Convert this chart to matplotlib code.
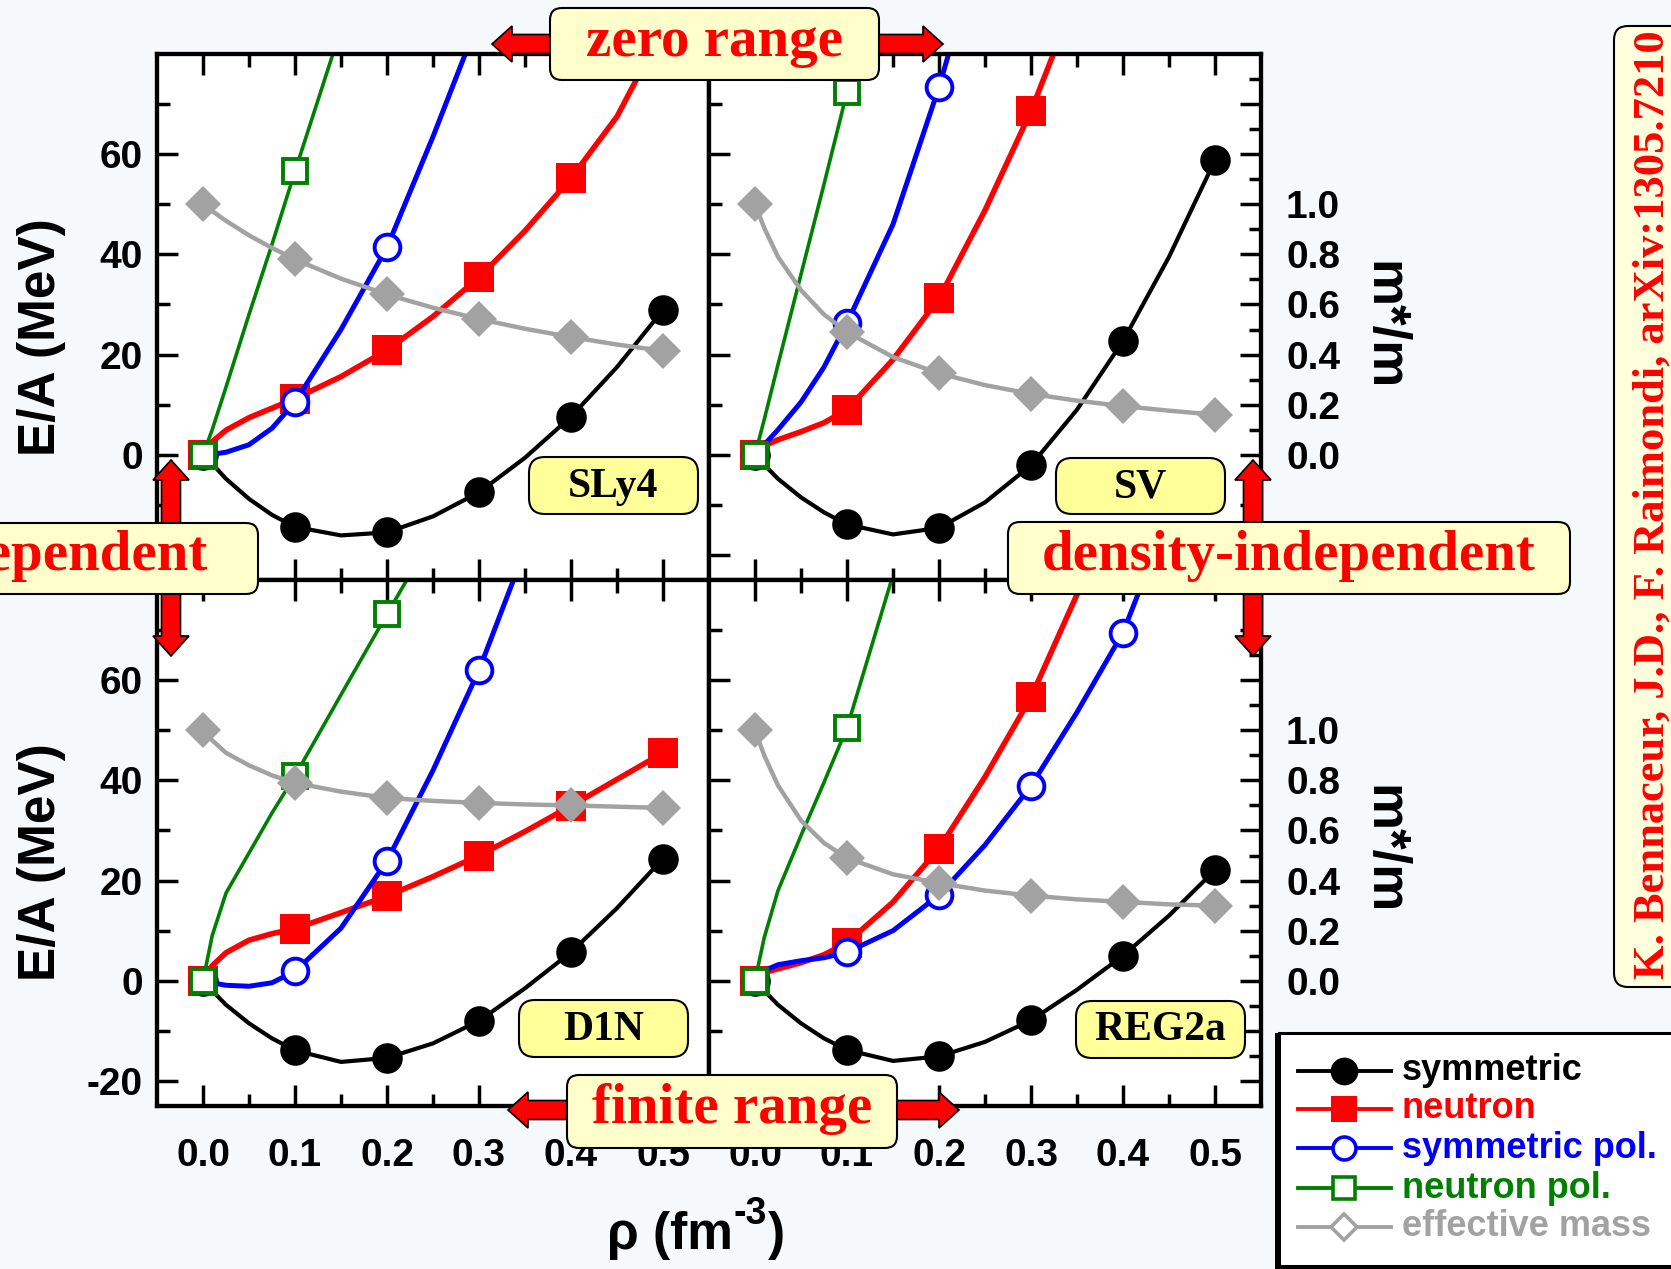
import matplotlib
matplotlib.use("Agg")
import matplotlib.pyplot as plt
from matplotlib.patches import FancyBboxPatch, FancyArrow, Rectangle
from matplotlib.lines import Line2D
from matplotlib.transforms import Affine2D

# ---------------------------------------------------------------- data
RHO_LINE = [0.0, 0.01, 0.025, 0.05, 0.075, 0.1, 0.15, 0.2, 0.25, 0.3, 0.35, 0.4, 0.45, 0.5]
RHO_MARK = [0.0, 0.1, 0.2, 0.3, 0.4, 0.5]

XTICKS = [0.0, 0.1, 0.2, 0.3, 0.4, 0.5]
XTICK_LABELS = ["0.0", "0.1", "0.2", "0.3", "0.4", "0.5"]
XMINOR = [0.05, 0.15, 0.25, 0.35, 0.45]
YTICKS = [-20, 0, 20, 40, 60]
YTICK_LABELS_TOP = ["", "0", "20", "40", "60"]
YTICK_LABELS_BOTTOM = ["-20", "0", "20", "40", "60"]
YMINOR = [-10, 10, 30, 50, 70]
MTICKS = [-0.4, -0.2, 0.0, 0.2, 0.4, 0.6, 0.8, 1.0, 1.2, 1.4]
MTICK_LABELS = ["", "", "0.0", "0.2", "0.4", "0.6", "0.8", "1.0", "", ""]
MMINOR = [-0.3, -0.1, 0.1, 0.3, 0.5, 0.7, 0.9, 1.1, 1.3, 1.5]

FORCES = ["SLy4", "SV", "D1N", "REG2a"]
SERIES = ["symmetric", "neutron", "symmetric pol.", "neutron pol.", "effective mass"]

# E/A (MeV) along RHO_LINE ; effective mass m*/m along RHO_LINE
sly4_sym = [0, -1.8, -4.8, -8.8, -12.0, -14.4, -16.1, -15.5, -12.3, -7.5, -0.6, 7.6, 17.5, 28.9]
sly4_neu = [0, 2.6, 4.9, 7.4, 9.3, 11.2, 15.6, 20.9, 27.6, 35.4, 44.7, 55.2, 67.5, 85.0]
sly4_spol = [0, 0.1, 0.5, 2.0, 5.3, 10.5, 25.0, 41.4, 63.5, 87.0, 112, 140, 170, 200]
sly4_npol = [0, 5.0, 13.5, 28.0, 42.0, 56.6, 85.0, 113, 142, 172, 203, 235, 268, 302]
sly4_mass = [1.0, 0.973, 0.934, 0.876, 0.826, 0.78, 0.703, 0.64, 0.587, 0.542, 0.503, 0.47, 0.44, 0.415]

sv_sym = [0, -2.0, -4.8, -8.5, -11.5, -13.9, -15.9, -14.6, -9.5, -2.1, 9.0, 22.7, 39.5, 58.8]
sv_neu = [0, 1.8, 3.0, 4.6, 6.4, 9.0, 19.0, 31.2, 48.8, 68.6, 92, 118, 147, 180]
sv_spol = [0, 2.0, 5.0, 10.5, 17.5, 26.3, 46.0, 73.4, 105, 140, 178, 220, 265, 313]
sv_npol = [0, 7.0, 18.0, 36.0, 54.0, 72.4, 108, 145, 183, 222, 262, 303, 345, 388]
sv_mass = [1.0, 0.906, 0.79, 0.657, 0.56, 0.49, 0.39, 0.325, 0.278, 0.243, 0.216, 0.194, 0.176, 0.16]

d1n_sym = [0, -2.0, -4.8, -8.5, -11.5, -13.9, -16.2, -15.4, -12.5, -8.0, -1.5, 5.7, 14.5, 24.4]
d1n_neu = [0, 3.0, 5.6, 8.1, 9.4, 10.4, 13.6, 16.9, 20.8, 25.0, 29.8, 34.9, 40.2, 45.5]
d1n_spol = [0, -0.4, -0.9, -1.1, -0.4, 1.9, 10.5, 23.9, 42.0, 62.0, 86, 112, 140, 170]
d1n_npol = [0, 9.0, 17.5, 25.5, 33.5, 40.9, 57.1, 73.2, 89, 105, 121, 137, 153, 169]
d1n_mass = [1.0, 0.96, 0.91, 0.86, 0.82, 0.79, 0.755, 0.73, 0.718, 0.71, 0.704, 0.70, 0.695, 0.69]

reg2a_sym = [0, -2.0, -4.8, -8.5, -11.5, -13.8, -16.0, -15.1, -12.2, -7.9, -1.8, 5.0, 13.0, 22.1]
reg2a_neu = [0, 1.6, 2.4, 3.6, 5.2, 7.6, 15.7, 26.4, 40.7, 56.6, 77.1, 100, 125, 152]
reg2a_spol = [0, 2.0, 3.2, 4.0, 4.6, 5.7, 10.0, 17.1, 27.1, 38.9, 53.6, 69.5, 93, 118]
reg2a_npol = [0, 8.6, 18.0, 29.0, 39.6, 50.5, 81.0, 112, 144, 177, 211, 246, 282, 319]
reg2a_mass = [1.0, 0.90, 0.78, 0.64, 0.55, 0.49, 0.425, 0.39, 0.36, 0.34, 0.325, 0.315, 0.305, 0.30]

PANEL_DATA = [
    (sly4_sym, sly4_neu, sly4_spol, sly4_npol, sly4_mass),
    (sv_sym, sv_neu, sv_spol, sv_npol, sv_mass),
    (d1n_sym, d1n_neu, d1n_spol, d1n_npol, d1n_mass),
    (reg2a_sym, reg2a_neu, reg2a_spol, reg2a_npol, reg2a_mass),
]

# ---------------------------------------------------------------- style
W, H = 1671, 1269
BG = "#f5f9fc"
RED = "#ff0000"
BLUE = "#0000ff"
GREEN = "#008000"
GRAY = "#a2a2a2"
SANS = "Liberation Sans"
SERIF = "Liberation Serif"

plt.rcParams["font.family"] = [SANS, "DejaVu Sans"]
plt.rcParams["font.weight"] = "bold"

STYLES = [
    dict(color="black", lw=3.0, marker="o", ms=22, mfc="black", mec="black", mew=0),
    dict(color=RED, lw=4.0, marker="s", ms=21, mfc=RED, mec=RED, mew=0),
    dict(color=BLUE, lw=3.6, marker="o", ms=18.5, mfc="white", mec=BLUE, mew=2.8),
    dict(color=GREEN, lw=2.6, marker="s", ms=17, mfc="white", mec=GREEN, mew=2.8),
    dict(color=GRAY, lw=3.2, marker="D", ms=18, mfc=GRAY, mec=GRAY, mew=0),
]

fig = plt.figure(figsize=(W / 100, H / 100), dpi=100)
fig.patch.set_facecolor(BG)
tr = Affine2D().scale(1.0 / W, 1.0 / H) + fig.transFigure


def fx(x):
    return x / W


def fy(y):
    return 1 - y / H


X_EDGES = [(157, 709), (709, 1261)]
Y_EDGES = [(54, 580), (580, 1106)]

mark_idx = [RHO_LINE.index(r) for r in RHO_MARK]

for k in range(4):
    row, col = divmod(k, 2)
    x0, x1 = X_EDGES[col]
    y0, y1 = Y_EDGES[row]
    ax = fig.add_axes([fx(x0), fy(y1), (x1 - x0) / W, (y1 - y0) / H])
    ax.set_facecolor("white")
    axm = ax.twinx()
    ax.set_xlim(-0.05, 0.55)
    ax.set_ylim(-25, 80)
    axm.set_ylim(-0.5, 1.6)

    vals = PANEL_DATA[k]
    for s in range(4):
        st = STYLES[s]
        ax.plot(RHO_LINE, vals[s], color=st["color"], lw=st["lw"],
                solid_capstyle="round", solid_joinstyle="round")
        ax.plot([RHO_LINE[i] for i in mark_idx], [vals[s][i] for i in mark_idx],
                ls="none", marker=st["marker"], ms=st["ms"], mfc=st["mfc"],
                mec=st["mec"], mew=st["mew"])
    st = STYLES[4]
    axm.plot(RHO_LINE, vals[4], color=st["color"], lw=st["lw"], solid_joinstyle="round")
    axm.plot([RHO_LINE[i] for i in mark_idx], [vals[4][i] for i in mark_idx],
             ls="none", marker=st["marker"], ms=st["ms"], mfc=st["mfc"],
             mec=st["mec"], mew=st["mew"])

    for a in (ax, axm):
        for sp in a.spines.values():
            sp.set_linewidth(3.0)

    ax.set_xticks(XTICKS)
    ax.set_xticks(XMINOR, minor=True)
    ax.set_yticks(YTICKS)
    ax.set_yticks(YMINOR, minor=True)
    ax.tick_params(which="both", direction="in", top=True, bottom=True, left=True,
                   right=False, width=2.5)
    ax.tick_params(which="major", length=15)
    ax.tick_params(which="minor", length=9)
    if row == 1:
        ax.set_xticklabels(XTICK_LABELS, fontsize=28, fontweight="bold", fontfamily=SANS)
        ax.tick_params(axis="x", pad=23)
    else:
        ax.tick_params(axis="x", labelbottom=False)
    if col == 0:
        labels = YTICK_LABELS_TOP if row == 0 else YTICK_LABELS_BOTTOM
        ax.set_yticklabels(labels, fontsize=28, fontweight="bold", fontfamily=SANS)
        ax.tick_params(axis="y", pad=10)
        axm.tick_params(right=False, labelright=False)
        axm.set_yticks([])
    else:
        ax.tick_params(axis="y", labelleft=False)
        axm.set_yticks(MTICKS)
        axm.set_yticklabels(MTICK_LABELS, fontsize=28, fontweight="bold", fontfamily=SANS)
        axm.set_yticks(MMINOR, minor=True)
        axm.tick_params(which="both", direction="in", width=2.5, pad=18)
        axm.tick_params(which="major", length=15)
        axm.tick_params(which="minor", length=9)

# ---------------------------------------------------------------- axis titles
for yc in (337, 862):
    fig.text(fx(42), fy(yc), "E/A (MeV)", rotation=90, ha="center", va="center",
             fontsize=37, fontweight="bold", fontfamily=SANS)
for yc in (326, 850):
    fig.text(fx(1383), fy(yc), "m*/m", rotation=270, ha="center", va="center",
             fontsize=38, fontweight="bold", fontfamily=SANS)

renderer = fig.canvas.get_renderer()
t1 = fig.text(fx(607), fy(1249), "ρ (fm", ha="left", va="baseline",
              fontsize=37, fontweight="bold", fontfamily=SANS)
bb1 = t1.get_window_extent(renderer)
t2 = fig.text((bb1.x1 + 1) / W, fy(1224), "-3", ha="left", va="baseline",
              fontsize=27, fontweight="bold", fontfamily=SANS)
bb2 = t2.get_window_extent(renderer)
fig.text((bb2.x1 + 1) / W, fy(1249), ")", ha="left", va="baseline",
         fontsize=37, fontweight="bold", fontfamily=SANS)


# ---------------------------------------------------------------- helpers
def box(x0, y0, x1, y1, fc, r=12, lw=1.5, z=5):
    p = FancyBboxPatch((x0, H - y1), x1 - x0, y1 - y0,
                       boxstyle="round,pad=0,rounding_size=%g" % r,
                       transform=tr, fc=fc, ec="black", lw=lw, zorder=z)
    fig.add_artist(p)


def arrow(x, y, dx, dy):
    a = FancyArrow(x, H - y, dx, -dy, width=19, head_width=36, head_length=20,
                   length_includes_head=True, transform=tr, fc=RED, ec="black",
                   lw=1.2, zorder=4)
    fig.add_artist(a)


def label(x, y, s, size=41, color=RED, ha="center", rot=0):
    fig.text(fx(x), fy(y), s, ha=ha, va="center", fontsize=size, color=color,
             fontfamily=SERIF, fontweight="bold", rotation=rot, zorder=6)


# panel name boxes
PANEL_BOX = [(529, 457, 698, 514), (1056, 458, 1225, 514),
             (519, 1000, 688, 1057), (1076, 1001, 1245, 1058)]
for name, (x0, y0, x1, y1) in zip(FORCES, PANEL_BOX):
    box(x0, y0, x1, y1, "#ffff99", r=16, lw=1.5)
    label((x0 + x1) / 2, (y0 + y1) / 2 + 1, name, size=30, color="black")

# zero range
arrow(565, 44, -73, 0)
arrow(865, 44, 78, 0)
box(550, 8, 879, 80, "#ffffcc")
label(714, 42, "zero range")

# finite range
arrow(580, 1110, -72, 0)
arrow(885, 1110, 74, 0)
box(567, 1075, 897, 1148, "#ffffcc")
label(732, 1109, "finite range")

# density-dependent (left, partly outside the figure)
arrow(171, 535, 0, -75)
arrow(171, 585, 0, 71)
box(-320, 523, 258, 594, "#ffffcc")
label(208, 556, "density-dependent", ha="right")

# density-independent
arrow(1253, 535, 0, -75)
arrow(1253, 585, 0, 71)
box(1008, 522, 1570, 594, "#ffffcc")
label(1289, 556, "density-independent")

# citation
box(1614, 26, 1720, 987, "#ffffdd", r=14, lw=1.5)
label(1653, 505, "K. Bennaceur, J.D., F. Raimondi, arXiv:1305.7210", size=32, rot=90)

# ---------------------------------------------------------------- legend
fig.add_artist(Rectangle((1275, H - 1270), 440, 237, transform=tr, fc="black",
                         ec="none", zorder=7))
fig.add_artist(Rectangle((1279, H - 1266), 440, 233, transform=tr, fc="white",
                         ec="black", lw=2.2, zorder=7))
LEG_Y = [1071, 1109, 1148, 1188, 1227]
LEG_COLORS = ["black", RED, BLUE, GREEN, GRAY]
LEG_MARK = [
    dict(marker="o", ms=20, mfc="black", mec="black", mew=0),
    dict(marker="s", ms=19, mfc=RED, mec=RED, mew=0),
    dict(marker="o", ms=16.5, mfc="white", mec=BLUE, mew=2.6),
    dict(marker="s", ms=16, mfc="white", mec=GREEN, mew=2.6),
    dict(marker="D", ms=13.5, mfc="white", mec=GRAY, mew=2.6),
]
for name, yy, c, mk in zip(SERIES, LEG_Y, LEG_COLORS, LEG_MARK):
    fig.add_artist(Line2D([1298, 1391], [H - yy, H - yy], transform=tr, color=c,
                          lw=2.8, zorder=8))
    fig.add_artist(Line2D([1344], [H - yy], transform=tr, ls="none", zorder=9, **mk))
    fig.text(fx(1402), fy(yy), name, ha="left", va="center", fontsize=26,
             fontweight="bold", fontfamily=SANS, color=c, zorder=9)

fig.savefig("out.png", dpi=100, facecolor=BG)
